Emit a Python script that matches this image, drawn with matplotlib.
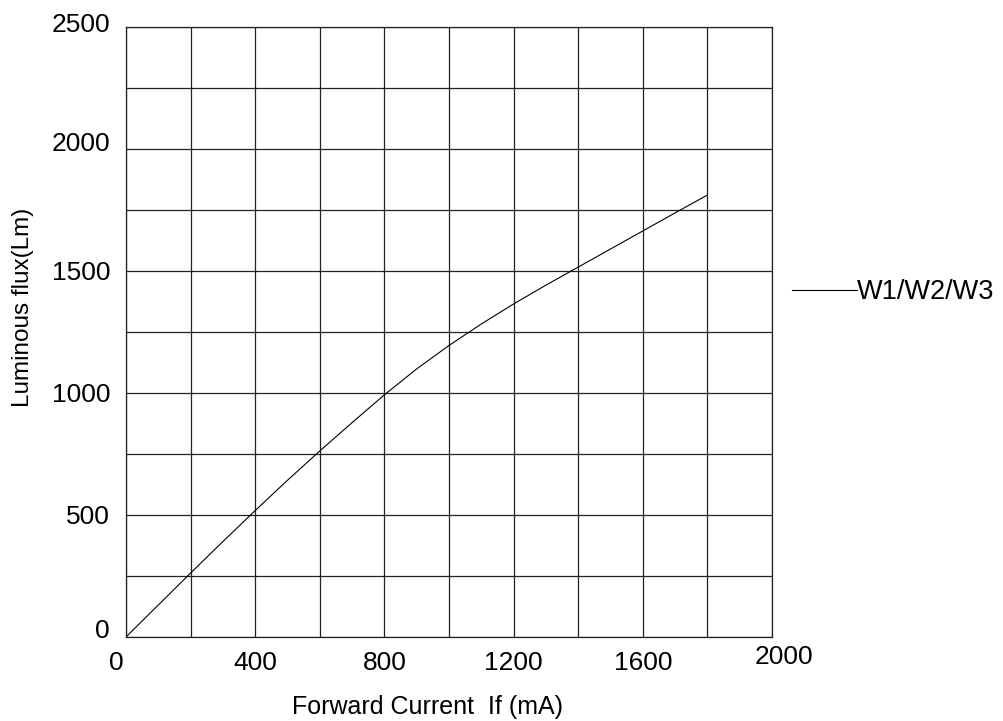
import matplotlib
matplotlib.use("Agg")
import matplotlib.pyplot as plt
import matplotlib.transforms as mtransforms

# Data
current_ma = [0, 100, 200, 300, 400, 500, 600, 700, 800, 900, 1000, 1100, 1200, 1300, 1400, 1500, 1600, 1700, 1800]
flux_lm = [0, 131, 262, 391, 518, 642, 762, 878, 992, 1098, 1194, 1282, 1364, 1441, 1515, 1589, 1663, 1737, 1810]
series_name = "W1/W2/W3"

x_ticks = [0, 400, 800, 1200, 1600, 2000]
x_tick_labels = ["0", "400", "800", "1200", "1600", "2000"]
y_ticks = [0, 500, 1000, 1500, 2000, 2500]
y_tick_labels = ["0", "500", "1000", "1500", "2000", "2500"]
x_grid = list(range(0, 2001, 200))
y_grid = list(range(0, 2501, 250))

plt.rcParams['font.family'] = ['Liberation Sans', 'DejaVu Sans']

fig = plt.figure(figsize=(10.04, 7.21), dpi=100)
ax = fig.add_axes([0.1255, 0.1165, 0.6435, 0.8467])

ax.plot(current_ma, flux_lm, color='black', lw=0.8, label=series_name)

ax.set_xlim(0, 2000)
ax.set_ylim(0, 2500)
ax.set_xticks(x_grid, minor=True)
ax.set_yticks(y_grid, minor=True)
ax.set_xticks(x_ticks)
ax.set_xticklabels(x_tick_labels)
ax.set_yticks(y_ticks)
ax.set_yticklabels(y_tick_labels)
ax.grid(True, which='both', color='#222222', lw=0.9)
ax.set_axisbelow(True)
ax.tick_params(which='both', length=0)
ax.tick_params(axis='x', labelsize=19, pad=10)
ax.tick_params(axis='y', labelsize=19, pad=11.5)
for s in ax.spines.values():
    s.set_color('#222222')
    s.set_linewidth(0.9)

# small position tweaks of a few tick labels, as in the reference
def shift(lbl, dx_px, dy_px):
    lbl.set_transform(lbl.get_transform() +
                      mtransforms.ScaledTranslation(dx_px / 100, dy_px / 100, fig.dpi_scale_trans))

xl = ax.get_xticklabels()
shift(xl[0], -10, 0)
shift(xl[-1], 12, 6)
yl = ax.get_yticklabels()
shift(yl[0], 0, 9)
shift(yl[4], 0, 7)
shift(yl[5], 0, 4)

ax.set_xlabel("Forward Current  If (mA)", fontsize=18, va='center')
ax.xaxis.set_label_coords(0.467, -0.115)
ax.set_ylabel("Luminous flux(Lm)", fontsize=17.5, va='center')
ax.yaxis.set_label_coords(-0.159, 0.54)

ax.legend(loc='center left', bbox_to_anchor=(1.031, 0.565), frameon=False,
          handlelength=2.4, handletextpad=0.0, borderpad=0, borderaxespad=0,
          fontsize=19.5)

fig.savefig("out.png", dpi=100, facecolor='white')
